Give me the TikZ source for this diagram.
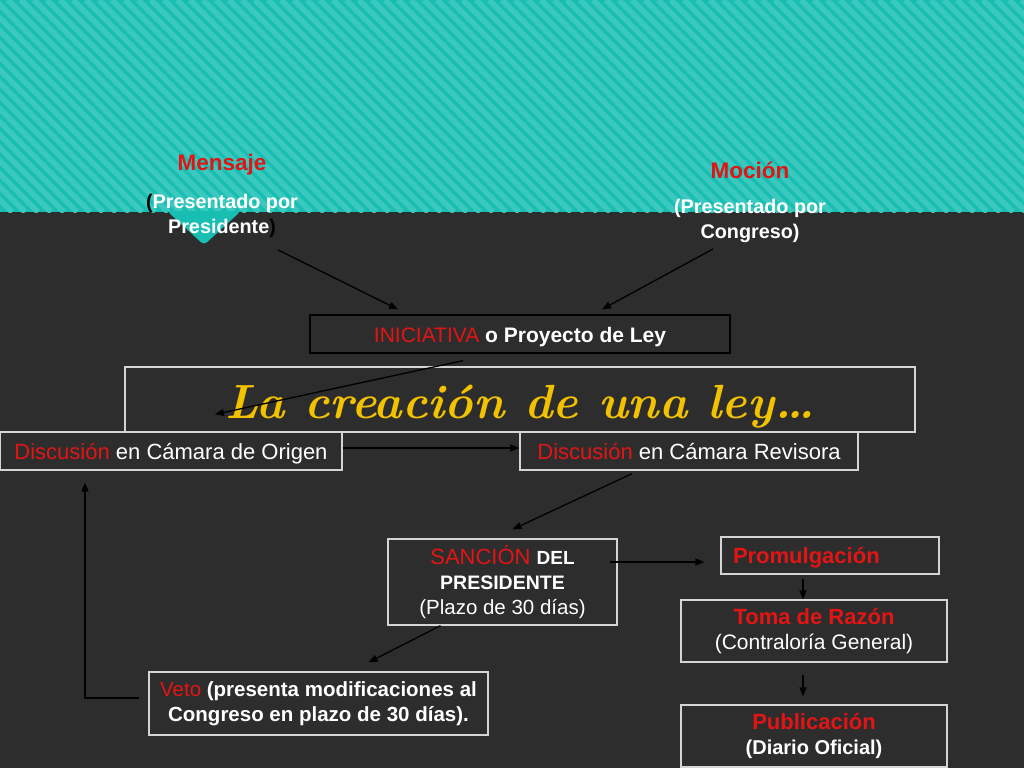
\documentclass[tikz,border=0pt]{standalone}
\usepackage{fontspec}
\usetikzlibrary{arrows.meta,
                positioning}
\newfontfamily\arial{Liberation Sans}
\definecolor{fondo}{HTML}{2D2D2D}
\definecolor{turq}{HTML}{19BEB3}
\definecolor{turqclaro}{HTML}{3BC9BF}
\definecolor{rojo}{HTML}{E31414}
\definecolor{oro}{HTML}{F2C200}
\definecolor{borde}{HTML}{D4D4D4}
\newcommand\rj[1]{\textcolor{rojo}{#1}}
\newcommand\tam[1]{\fontsize{#1}{25}\selectfont}

\begin{document}
\begin{tikzpicture}[x=1pt, y=-1pt,
  CAJA/.style = {draw=borde, line width=1.3pt, text=white, align=center,
                 inner sep=0pt, font=\arial\tam{22}},
   UNA/.style = {text height=16, text depth=0},% una sola linea
  CABE/.style = {text=white, align=center, inner sep=0pt,
                 font=\arial\bfseries\tam{19.8}},
    FL/.style = {-{Triangle[length=9pt,width=7pt]}, line width=1.3pt, black}
                    ]
\useasboundingbox (0,0) rectangle (1024,768);
% fondo y franja
\fill[fondo] (0,0) rectangle (1024,768);
\fill[turq] (0,0) rectangle (1024,212);
\begin{scope}
\clip (0,0) rectangle (1024,212);
\foreach \x in {-226,-213,...,1030}
  \draw[turqclaro, line width=5.5pt] (\x,0) -- ++(212,212);
\end{scope}
\fill[turq, rounded corners=4pt] (167,211) -- (241,211) -- (204,245) -- cycle;
% origen de la iniciativa
\node (mens)  [CABE, text=rojo, font=\arial\bfseries\tam{22.5}] at (222,165) {Mensaje};
\node (mensp) [CABE] at (222,216)
  {\textcolor{black}{(}Presentado por\\Presidente\textcolor{black}{)}};
\node (moc)   [CABE, text=rojo, font=\arial\bfseries\tam{22.5}] at (750,170) {Moción};
\node (mocp)  [CABE] at (750,221) {(Presentado por\\Congreso)};
% cajas
\node (ini)   [CAJA, UNA, draw=black, minimum width=420, minimum height=38, font=\arial\tam{21}]
  at (520,334) {\rj{INICIATIVA} \bfseries o Proyecto de Ley};
\node (tit)   [CAJA, minimum width=790, minimum height=65, text height=37, text depth=0,
               font=\fontsize{48}{60}\selectfont\bfseries\itshape, text=oro]
  at (520,399.5) {La creación de una ley…};
\node (orig)  [CAJA, UNA, minimum width=342, minimum height=38]
  at (171,451) {\rj{Discusión} en Cámara de Origen};
\node (rev)   [CAJA, UNA, minimum width=338, minimum height=38]
  at (689,451) {\rj{Discusión} en Cámara Revisora};
\node (sanc)  [CAJA, minimum width=229, minimum height=86]
  at (502.5,582) {\rj{SANCIÓN} {\bfseries\tam{19}DEL}\\
                  \bfseries\tam{19.5}PRESIDENTE\\\tam{20.5}(Plazo de 30 días)};
\node (prom)  [CAJA, UNA, minimum width=218, minimum height=37,
               text width=194, inner xsep=12, align=left]
  at (830,555.5) {\rj{\bfseries Promulgación}};
\node (toma)  [CAJA, minimum width=266, minimum height=62]
  at (814,631) {\rj{\bfseries Toma de Razón}\\\tam{21}(Contraloría General)};
\node (pub)   [CAJA, minimum width=266, minimum height=62]
  at (814,736) {\rj{\bfseries Publicación}\\\bfseries\tam{20}(Diario Oficial)};
\node (veto)  [CAJA, minimum width=339, minimum height=63,
               font=\arial\bfseries\tam{20.5}]
  at (318.5,703.5)
  {\rj{\mdseries Veto} (presenta modificaciones al\\Congreso en plazo de 30 días).};
% flechas
\draw[FL] ([xshift=56pt,yshift=-12pt]mensp.south) -- ([xshift=-122pt,yshift=5pt]ini.north);
\draw[FL] ([xshift=-37pt,yshift=-6pt]mocp.south) -- ([xshift=82pt,yshift=5pt]ini.north);
\draw[FL] ([xshift=-57pt,yshift=-7pt]ini.south) -- ([xshift=44pt,yshift=17pt]orig.north);
\draw[FL] ([yshift=3pt]orig.east) -- ([yshift=3pt]rev.west);
\draw[FL] ([xshift=-57pt,yshift=-3pt]rev.south) -- ([xshift=10pt,yshift=9pt]sanc.north);
\draw[FL] ([xshift=-8pt,yshift=20pt]sanc.east) -- ([xshift=-16pt,yshift=-6.5pt]prom.west);
\draw[FL] ([xshift=-27pt,yshift=-4pt]prom.south) -- ([xshift=-11pt]toma.north);
\draw[FL] ([xshift=-11pt,yshift=-12pt]toma.south) -- ([xshift=-11pt,yshift=8pt]pub.north);
\draw[FL] ([xshift=-62pt]sanc.south) -- ([xshift=50pt,yshift=9pt]veto.north);
\draw[FL] ([xshift=-9pt,yshift=5.5pt]veto.west) -| ([xshift=-86pt,yshift=-12pt]orig.south);
\end{tikzpicture}
\end{document}
